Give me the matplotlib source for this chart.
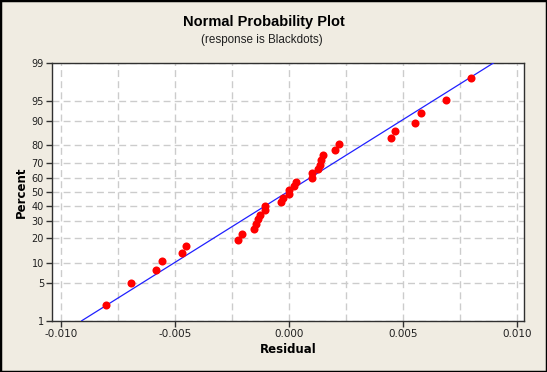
import math
import numpy as np
import matplotlib
matplotlib.use("Agg")
import matplotlib.pyplot as plt
from matplotlib.ticker import FixedLocator, MultipleLocator, FuncFormatter

# ---- data ----
residuals = [-0.00800, -0.00690, -0.00580, -0.00555, -0.00466, -0.00450,
             -0.00222, -0.00204, -0.00152, -0.00143, -0.00134, -0.00127,
             -0.00104, -0.00102, -0.00033, -0.00025, 0.00000, 0.00002,
             0.00022, 0.00031, 0.00101, 0.00103, 0.00127, 0.00136,
             0.00142, 0.00149, 0.00204, 0.00221, 0.00447, 0.00465,
             0.00553, 0.00579, 0.00689, 0.00798]
percents = [2.03, 4.94, 7.85, 10.76, 13.66, 16.57, 19.48, 22.38, 25.29, 28.20,
            31.10, 34.01, 36.92, 39.83, 42.73, 45.64, 48.55, 51.45, 54.36, 57.27,
            60.17, 63.08, 65.99, 68.90, 71.80, 74.71, 77.62, 80.52, 83.43, 86.34,
            89.24, 92.15, 95.06, 97.97]
line_mean = -0.00005
line_sd = 0.00388
line_percents = [1, 99]
y_ticks = [1, 5, 10, 20, 30, 40, 50, 60, 70, 80, 90, 95, 99]
x_ticks = [-0.010, -0.005, 0.000, 0.005, 0.010]
title = "Normal Probability Plot"
subtitle = "(response is Blackdots)"


def _ppf(p):
    p = np.clip(np.asarray(p, dtype=float), 1e-12, 1 - 1e-12)
    a = [-3.969683028665376e+01, 2.209460984245205e+02, -2.759285104469687e+02,
         1.383577518672690e+02, -3.066479806614716e+01, 2.506628277459239e+00]
    b = [-5.447609879822406e+01, 1.615858368580409e+02, -1.556989798598866e+02,
         6.680131188771972e+01, -1.328068155288572e+01]
    c = [-7.784894002430293e-03, -3.223964580411365e-01, -2.400758277161838e+00,
         -2.549732539343734e+00, 4.374664141464968e+00, 2.938163982698783e+00]
    d = [7.784695709041462e-03, 3.224671290700398e-01, 2.445134137142996e+00,
         3.754408661907416e+00]
    plow = 0.02425
    out = np.empty_like(p)
    lo = p < plow
    hi = p > 1 - plow
    mid = ~(lo | hi)
    q = np.sqrt(-2 * np.log(p[lo]))
    out[lo] = (((((c[0]*q+c[1])*q+c[2])*q+c[3])*q+c[4])*q+c[5]) / \
              ((((d[0]*q+d[1])*q+d[2])*q+d[3])*q+1)
    q = np.sqrt(-2 * np.log(1 - p[hi]))
    out[hi] = -(((((c[0]*q+c[1])*q+c[2])*q+c[3])*q+c[4])*q+c[5]) / \
               ((((d[0]*q+d[1])*q+d[2])*q+d[3])*q+1)
    q = p[mid] - 0.5
    r = q * q
    out[mid] = (((((a[0]*r+a[1])*r+a[2])*r+a[3])*r+a[4])*r+a[5])*q / \
               (((((b[0]*r+b[1])*r+b[2])*r+b[3])*r+b[4])*r+1)
    return out


_erf = np.vectorize(math.erf)


def fwd(pct):
    return _ppf(np.asarray(pct, dtype=float) / 100.0)


def inv(z):
    z = np.asarray(z, dtype=float)
    return 50.0 * (1.0 + _erf(z / math.sqrt(2.0)))


bg = "#F0ECE2"
fig = plt.figure(figsize=(5.47, 3.72), dpi=100, facecolor=bg)
fig.patches.append(plt.Rectangle((0, 0), 1, 1, transform=fig.transFigure,
                                 fill=False, edgecolor="black", linewidth=2.5))
ax = fig.add_axes([0.0956, 0.1379, 0.8624, 0.6927])
ax.set_facecolor("white")
ax.set_yscale("function", functions=(fwd, inv))

# fitted line
lp = np.array(line_percents, dtype=float)
lx = line_mean + line_sd * fwd(lp)
ax.plot(lx, lp, color="#2020FF", linewidth=0.9, zorder=3)
ax.plot(residuals, percents, "o", color="#FF0000", markersize=5.8,
        markeredgewidth=0, zorder=4)

ax.set_xlim(-0.01037, 0.01032)
ax.set_ylim(1, 99)
ax.yaxis.set_major_locator(FixedLocator(y_ticks))
ax.yaxis.set_major_formatter(FuncFormatter(lambda v, p: f"{v:g}"))
ax.yaxis.set_minor_locator(FixedLocator([]))
ax.xaxis.set_major_locator(FixedLocator(x_ticks))
ax.xaxis.set_minor_locator(MultipleLocator(0.0025))
ax.xaxis.set_major_formatter(FuncFormatter(lambda v, p: f"{v:.3f}"))

grid_kw = dict(color="#CCCCCC", linestyle=(0, (5, 3)), linewidth=1.0)
ax.grid(True, axis="x", which="both", **grid_kw)
ax.grid(True, axis="y", which="major", **grid_kw)
ax.set_axisbelow(True)

for s in ax.spines.values():
    s.set_color("#303030")
    s.set_linewidth(1.0)

ax.tick_params(axis="both", which="major", direction="out", length=4,
               width=1, color="#303030", labelsize=7, labelcolor="#202020", pad=2)
ax.tick_params(axis="x", which="minor", length=0)
ax.tick_params(axis="x", which="major", labelsize=7.5, pad=2)

ax.set_xlabel("Residual", fontsize=8.5, fontweight="bold", labelpad=3)
ax.set_ylabel("Percent", fontsize=8.5, fontweight="bold", labelpad=3)

fig.text(0.483, 0.94, title, ha="center", va="center", fontsize=10.5,
         fontweight="bold", color="black", family="Liberation Sans")
fig.text(0.479, 0.893, subtitle, ha="center", va="center", fontsize=8.4,
         color="#202020", family="Liberation Sans")

fig.savefig("out.png", dpi=100, facecolor=bg)
